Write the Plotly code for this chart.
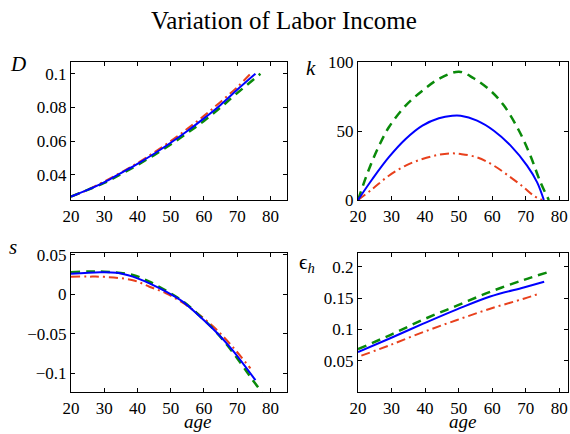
import plotly.graph_objects as go

# ---------------- data ----------------
# D panel
D_age_blue = [20, 25, 30, 35, 40, 45, 50, 55, 60, 65, 70, 75.5]
D_blue = [0.027, 0.031, 0.0355, 0.041, 0.0465, 0.0525, 0.059, 0.066, 0.0735, 0.0815, 0.0905, 0.100]
D_age_green = [20, 25, 30, 35, 40, 45, 50, 55, 60, 65, 70, 77]
D_green = [0.027, 0.031, 0.0352, 0.0403, 0.0458, 0.0517, 0.058, 0.0648, 0.072, 0.080, 0.0885, 0.100]
D_age_red = [20, 25, 30, 35, 40, 45, 50, 55, 60, 65, 70, 74]
D_red = [0.027, 0.031, 0.036, 0.0413, 0.047, 0.0533, 0.060, 0.0673, 0.075, 0.0833, 0.092, 0.100]

# k panel
k_age_blue = [20, 24.3, 29.2, 34.2, 39.2, 44.1, 48.1, 50.6, 55.5, 60.5, 65.5, 70.4, 73.4, 75.4]
k_blue = [0, 15.2, 31, 44.2, 53.9, 59.2, 61.1, 61.1, 57.5, 50.2, 39.4, 24.9, 12.8, 0]
k_age_green = [20, 23.3, 26.3, 29.2, 34.2, 39.2, 44.1, 50.1, 54.5, 59.5, 63.5, 68, 71.4, 74.4, 76.9]
k_green = [0, 22.5, 39.4, 52.7, 68.4, 79.2, 87.7, 93, 88.2, 79.2, 68.4, 50.2, 32.1, 12.8, 0]
k_age_red = [20, 24.3, 29.2, 34.2, 39.2, 44.1, 48.1, 50.6, 55.5, 60.5, 65.5, 69.4, 72.4, 74.9]
k_red = [0, 8, 17.6, 24.9, 29.7, 32.8, 33.8, 33.3, 30.9, 24.9, 16.4, 9.2, 3.1, 0]

# s panel
s_age_blue = [20, 28.7, 33.7, 38.6, 43.6, 48.6, 53.6, 58.6, 63.6, 68.6, 75.5]
s_blue = [0.026, 0.028, 0.0275, 0.0225, 0.014, 0.0034, -0.0093, -0.0275, -0.0475, -0.0708, -0.109]
s_age_green = [20, 25, 30, 38.6, 43.6, 48.6, 53.6, 58.6, 63.6, 68.6, 73.6, 77.5]
s_green = [0.028, 0.029, 0.0288, 0.0246, 0.016, 0.0047, -0.0085, -0.0267, -0.0475, -0.073, -0.1025, -0.125]
s_age_red = [20, 25, 30, 38.6, 43.6, 48.6, 53.6, 58.6, 63.6, 68.6, 74]
s_red = [0.0225, 0.0225, 0.0222, 0.018, 0.0097, 0.0013, -0.0106, -0.026, -0.044, -0.0665, -0.094]

# epsilon_h panel
e_age_blue = [20, 29.6, 39.6, 49.5, 59.4, 69.4, 75.5]
e_blue = [0.0637, 0.0858, 0.1095, 0.132, 0.1526, 0.167, 0.176]
e_age_green = [20, 29.6, 39.6, 49.5, 59.4, 69.4, 77]
e_green = [0.0684, 0.091, 0.116, 0.138, 0.160, 0.179, 0.192]
e_age_red = [21, 29.6, 39.6, 49.5, 59.4, 69.4, 74]
e_red = [0.058, 0.075, 0.096, 0.115, 0.133, 0.149, 0.157]

x_ticks = [20, 30, 40, 50, 60, 70, 80]
D_ticks = [0.04, 0.06, 0.08, 0.1]
D_labels = ["0.04", "0.06", "0.08", "0.1"]
k_ticks = [0, 50, 100]
s_ticks = [-0.1, -0.05, 0, 0.05]
s_labels = ["\u22120.1", "\u22120.05", "0", "0.05"]
e_ticks = [0.05, 0.1, 0.15, 0.2]
e_labels = ["0.05", "0.1", "0.15", "0.2"]

title_text = "Variation of Labor Income"

# ---------------- styles ----------------
BLUE = "#0000ff"
GREEN = "#0a8a0a"
RED = "#e8401c"
LW = 2
SERIF = "Times New Roman"

fig = go.Figure()

panels = [
    ("x", "y", (D_age_blue, D_blue), (D_age_green, D_green), (D_age_red, D_red)),
    ("x2", "y2", (k_age_blue, k_blue), (k_age_green, k_green), (k_age_red, k_red)),
    ("x3", "y3", (s_age_blue, s_blue), (s_age_green, s_green), (s_age_red, s_red)),
    ("x4", "y4", (e_age_blue, e_blue), (e_age_green, e_green), (e_age_red, e_red)),
]

for xa, ya, b, g, r in panels:
    fig.add_trace(go.Scatter(x=r[0], y=r[1], xaxis=xa, yaxis=ya, mode="lines",
                             line=dict(color=RED, width=LW, dash="9px,4px,2px,4px", shape="spline"),
                             showlegend=False))
    fig.add_trace(go.Scatter(x=g[0], y=g[1], xaxis=xa, yaxis=ya, mode="lines",
                             line=dict(color=GREEN, width=LW + 0.5, dash="9px,6px", shape="spline"),
                             showlegend=False))
    fig.add_trace(go.Scatter(x=b[0], y=b[1], xaxis=xa, yaxis=ya, mode="lines",
                             line=dict(color=BLUE, width=LW, shape="spline"),
                             showlegend=False))

W, H = 570, 434
def dx(a, b):
    return [a / W, b / W]
def dy(top, bot):
    return [1 - bot / H, 1 - top / H]

axis_common = dict(showline=True, linecolor="black", linewidth=1.2, mirror="ticks",
                   ticks="inside", ticklen=4, tickcolor="black", showgrid=False,
                   zeroline=False, tickfont=dict(family=SERIF, size=17))

left_x = dx(71, 287)
right_x = dx(358, 568)
top_y = dy(62, 200)
bot_y = dy(253, 392)

fig.update_layout(
    template="none",
    width=W, height=H, margin=dict(l=0, r=0, t=0, b=0),
    paper_bgcolor="white", plot_bgcolor="white",
    font=dict(family=SERIF, color="#000000"),
    xaxis=dict(domain=left_x, anchor="y", range=[20, 85], tickvals=x_ticks, **axis_common),
    yaxis=dict(domain=top_y, anchor="x", range=[0.025, 0.107], tickvals=D_ticks,
               ticktext=D_labels, **axis_common),
    xaxis2=dict(domain=right_x, anchor="y2", range=[20, 82.6], tickvals=x_ticks, **axis_common),
    yaxis2=dict(domain=top_y, anchor="x2", range=[0, 100], tickvals=k_ticks, **axis_common),
    xaxis3=dict(domain=left_x, anchor="y3", range=[20, 85], tickvals=x_ticks, **axis_common),
    yaxis3=dict(domain=bot_y, anchor="x3", range=[-0.124, 0.0525], tickvals=s_ticks,
                ticktext=s_labels, **axis_common),
    xaxis4=dict(domain=right_x, anchor="y4", range=[20, 82.6], tickvals=x_ticks, **axis_common),
    yaxis4=dict(domain=bot_y, anchor="x4", range=[0, 0.222], tickvals=e_ticks,
                ticktext=e_labels, **axis_common),
)

def ann(text, x, y, size, italic=False, yanchor="middle"):
    t = f"<i>{text}</i>" if italic else text
    fig.add_annotation(text=t, x=x / W, y=1 - y / H, xref="paper", yref="paper",
                       showarrow=False, xanchor="center", yanchor=yanchor,
                       font=dict(family=SERIF, size=size))

ann(title_text, 284, 21, 25)
ann("D", 18, 64, 21, italic=True)
ann("k", 311, 68, 21, italic=True)
ann("s", 13, 247, 21, italic=True)
ann("\u03f5<sub><i>h</i></sub>", 307, 263, 21)
ann("age", 197, 434, 19, italic=True, yanchor="bottom")
ann("age", 462, 434, 19, italic=True, yanchor="bottom")

fig.write_html("out.html")
